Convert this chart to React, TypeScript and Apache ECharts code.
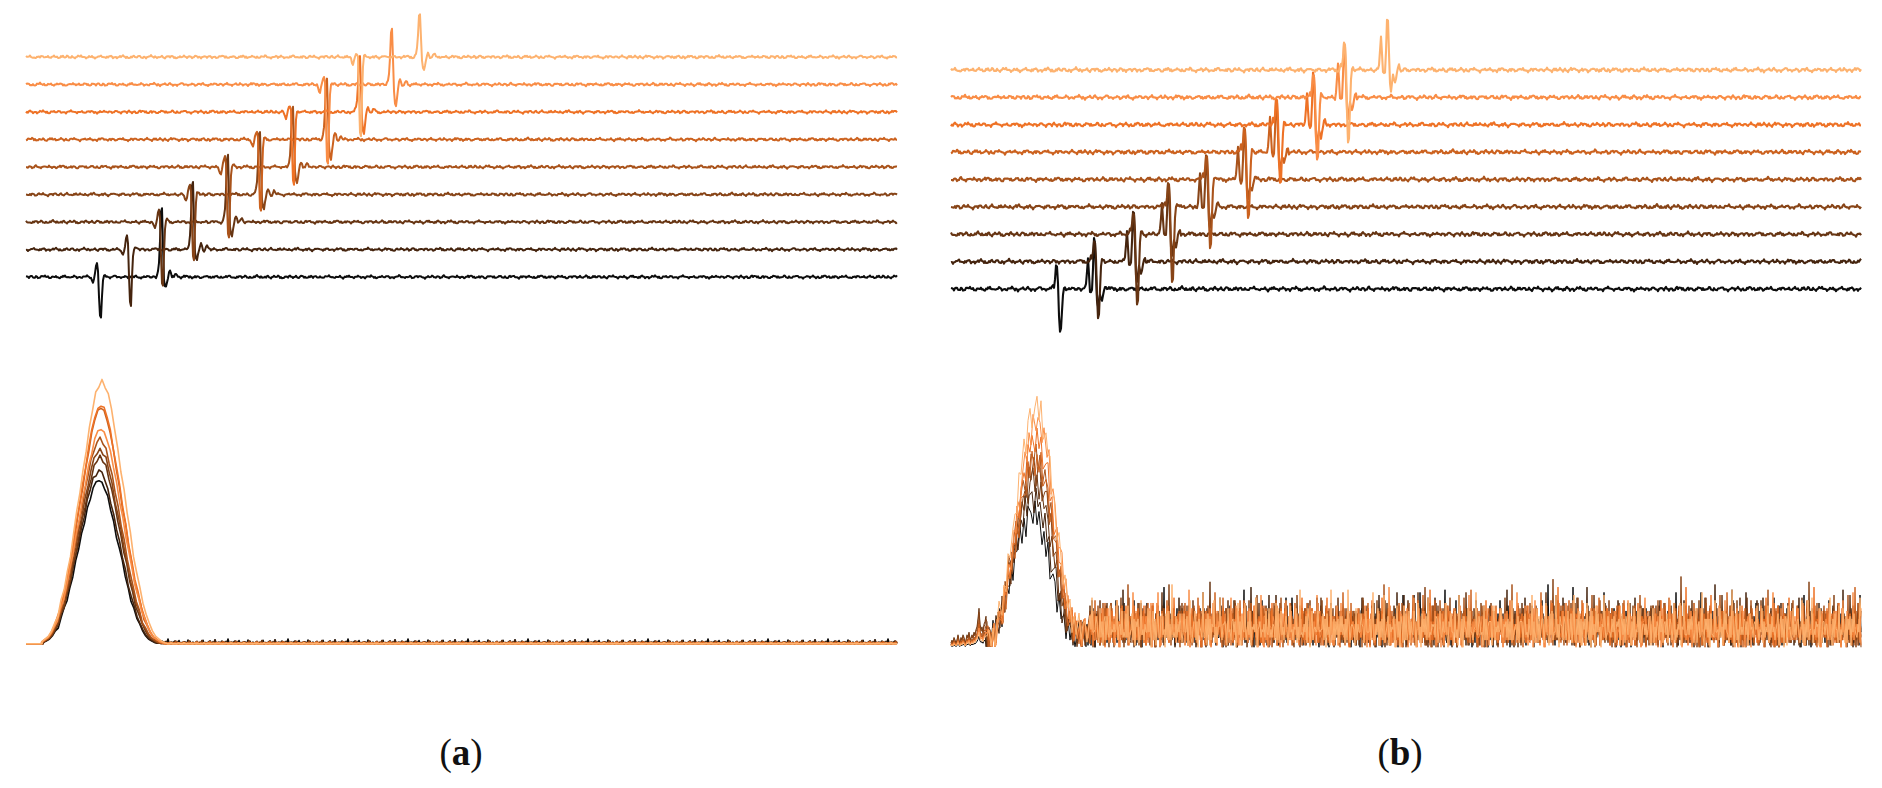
import { useEffect, useRef } from 'react';
import * as echarts from 'echarts';

// ---------- colours of the 9 signals (black -> light orange)
const traceColors = ['#0d0d0d', '#45240e', '#673513', '#874417', '#a9531b', '#cc621f', '#ee7226', '#f98d46', '#fdb26f'];

// ---------- baseline wiggle of the time signals (signal units, 1 = trace offset)
const signalNoise = [0.01, 0.03, 0.0, -0.02, 0.01, 0.04, 0.02, -0.01, -0.03, -0.01, 0.02, 0.0, -0.03, -0.04, -0.01, 0.02, 0.04, 0.01, 0.03, 0.05, 0.02, -0.01, 0.01, -0.02, -0.04, -0.02, 0.0, 0.02, -0.01, 0.01, 0.03, 0.0, -0.02, -0.05, -0.03, 0.0, 0.01, 0.03, 0.02, 0.04, 0.01, -0.01, 0.01, -0.02, -0.03, 0.0, -0.01, 0.02, 0.04, 0.03, 0.0, -0.03, -0.02, 0.01, -0.01, -0.04, -0.02, 0.01, 0.03, 0.01, 0.02, 0.05, 0.03, 0.0, -0.02, 0.0, -0.03, -0.05, -0.02, 0.01, 0.0, 0.02, 0.03, 0.01, -0.02, 0.0, 0.02, 0.04, 0.02, -0.01, -0.03, -0.02, 0.0, -0.02, -0.04, -0.01, 0.02, 0.01, 0.03, 0.06, 0.03, 0.0, -0.01, 0.01, -0.02, -0.03, -0.01, 0.01, -0.01, 0.02, 0.03, 0.0, -0.03, -0.04, -0.01, 0.01, 0.03, 0.02, 0.0, 0.02, 0.04, 0.01, -0.02, -0.01, -0.03, -0.05, -0.02, 0.0, 0.02, 0.01, -0.01, 0.02, 0.04, 0.02, 0.0, -0.02, -0.01, 0.01, 0.03, 0.0, -0.03, -0.02, 0.0, 0.03, 0.05, 0.02, -0.01, 0.0, -0.02, -0.04, -0.01, 0.02];
const signalJitter = [0.015, -0.012, 0.008, -0.016, 0.011, -0.006, 0.014, -0.01, 0.004, -0.014, 0.012];

// ---------- panel (a), top: 9 offset signals, two echoes each
const aSamples = 872;
const aEchoTimes = [74, 104, 136, 167, 202, 234, 267, 301, 334, 366, 394];
const aFirstUp = [0.49, 0.52, 0.45, 0.4, 0.35, 0.3, 0.25, 0.2, 0.1];
const aFirstDown = [1.46, 2.03, 2.34, 2.39, 2.56, 2.62, 2.65, 2.9, 2.89];
const aSecondUp = [2.5, 2.48, 2.39, 2.3, 2.16, 2.18, 2.04, 2.0, 1.56];
const aSecondDown = [0.34, 0.39, 0.5, 0.55, 0.6, 0.7, 0.8, 0.85, 0.5];
const aFirstShape = [0, -0.03, -0.08, -0.1, -0.04, 0.3, 0.8, 1.0, 0.35, -0.5, -0.95, -1.0, -0.5, -0.12, 0.08, 0.15, 0.12, 0.06, 0.02, 0];
const aFirstStart = -10;
const aSecondShape = [0, 0.03, 0.08, 0.2, 0.5, 0.95, 1.0, 0.45, -0.3, -0.85, -1.0, -0.6, -0.2, 0.05, 0.1, 0.06, -0.02, -0.06, -0.03, 0.04, 0.06, 0.03, 0];
const aSecondStart = -6;

// ---------- panel (b), top
const bSamples = 911;
const bEchoTimes = [109, 147, 186, 221, 259, 297, 329, 366, 397, 440];
const bFirstUp = [0.83, 0.79, 0.8, 0.85, 0.89, 0.85, 0.94, 0.83, 0.97];
const bFirstDown = [1.6, 2.07, 2.6, 2.8, 2.52, 2.42, 2.22, 2.31, 2.68];
const bSecondUp = [1.8, 1.81, 1.85, 1.89, 1.85, 1.94, 1.83, 1.97, 1.88];
const bSecondDown = [0.7, 0.75, 0.8, 0.75, 0.7, 0.7, 0.75, 0.8, 0.79];
const bFirstShape = [0, 0.1, 0.25, 0.1, 0.45, 1.0, 0.95, 0.2, -0.6, -1.0, -0.95, -0.5, -0.12, 0.08, 0.1, 0.04, 0];
const bFirstStart = -9;
const bSecondShape = [0, 0.1, 0.35, 0.63, 0.3, -0.05, -0.15, -0.05, 0.4, 1.0, 0.95, 0.3, -0.6, -1.0, -0.6, -0.3, -0.45, -0.6, -0.35, -0.1, 0.05, 0.08, 0];
const bSecondStart = -13;

// ---------- panel (a), bottom: spectra
const aPeakCenter = [73, 73, 74, 74, 74, 75, 75, 75, 76];
const aPeakWidth = [0.97, 0.98, 0.99, 1.0, 1.01, 1.02, 1.03, 1.04, 1.05];
const aPeakHeight = [0.624, 0.66, 0.71, 0.74, 0.78, 0.9, 0.91, 0.82, 1.0];
const aPeakOffsets = [-57, -54, -51, -48, -45, -42, -39, -36, -33, -30, -27, -24, -21, -18, -15, -12, -9, -6, -3, 0, 3, 6, 9, 12, 15, 18, 21, 24, 27, 30, 33, 36, 39, 42, 45, 48, 51, 54, 57, 60];
const aPeakProfile = [0.01, 0.02, 0.03, 0.05, 0.08, 0.11, 0.16, 0.21, 0.27, 0.34, 0.42, 0.5, 0.58, 0.66, 0.74, 0.82, 0.89, 0.95, 0.98, 1.0, 0.98, 0.95, 0.89, 0.82, 0.74, 0.66, 0.58, 0.5, 0.42, 0.34, 0.27, 0.21, 0.16, 0.11, 0.08, 0.05, 0.03, 0.02, 0.01, 0.005];
const aPeakJitter = [0.004, -0.006, 0.008, -0.003, 0.006, -0.008, 0.002, 0.007, -0.005, 0.003, -0.007, 0.005, -0.002, 0.008, -0.004, 0.006, -0.006, 0.002, 0.005, -0.003];
const aFloorNoise = [0.004, 0.002, 0.006, 0.003, 0.012, 0.004, 0.002, 0.005, 0.003, 0.016, 0.005, 0.002, 0.004, 0.007, 0.003, 0.002, 0.011, 0.004, 0.003, 0.006, 0.002, 0.004, 0.019, 0.005, 0.003, 0.002, 0.006, 0.004, 0.009, 0.003, 0.002, 0.005, 0.004, 0.013, 0.003, 0.002, 0.006, 0.003, 0.004, 0.008, 0.002, 0.003, 0.015, 0.004, 0.002, 0.005, 0.003, 0.007, 0.002, 0.004, 0.003, 0.01, 0.004, 0.002, 0.005, 0.003, 0.006, 0.014, 0.003, 0.002];
const aFloorScale = [1.0, 0.8, 0.7, 0.6, 0.5, 0.45, 0.4, 0.35, 0.3];

// ---------- panel (b), bottom: spectra
const bPeakCenter = [84, 85, 86, 87, 87, 88, 88, 89, 88];
const bPeakHeight = [0.5, 0.56, 0.62, 0.66, 0.72, 0.7, 0.78, 0.84, 0.9];
const bPeakOffsets = [-50, -48, -46, -44, -42, -40, -37, -35, -33, -31, -29, -26, -24, -22, -20, -18, -15, -13, -11, -9, -7, -4, -2, 0, 2, 4, 7, 9, 11, 13, 15, 18, 20, 22, 24, 26, 29, 31, 33, 35, 37, 40, 42, 44, 46, 48, 51];
const bPeakProfile = [0.02, 0.03, 0.04, 0.06, 0.09, 0.13, 0.17, 0.22, 0.28, 0.34, 0.4, 0.47, 0.54, 0.61, 0.68, 0.75, 0.81, 0.87, 0.92, 0.96, 0.99, 1.0, 1.0, 0.99, 0.97, 0.93, 0.88, 0.82, 0.75, 0.68, 0.6, 0.52, 0.44, 0.37, 0.3, 0.24, 0.19, 0.15, 0.12, 0.1, 0.09, 0.08, 0.08, 0.08, 0.08, 0.08, 0.08];
const bPeakJitter = [0.02, -0.04, 0.05, -0.02, 0.06, -0.05, 0.03, 0.04, -0.06, 0.01, 0.05, -0.03, 0.06, -0.05, 0.02, -0.01, 0.05, -0.04, 0.03, -0.06, 0.04, 0.01, -0.03, 0.06, -0.02, 0.05, -0.05, 0.03, -0.03, 0.06, -0.04, 0.02, 0.03, -0.05, 0.05, -0.01, 0.03, -0.04, 0.05, -0.02, 0.04, -0.05, 0.01, 0.06, -0.03, 0.04, -0.04, 0.05, -0.02, 0.03];
const bPreFloor = [0.02, 0.03, 0.02, 0.04, 0.03, 0.02, 0.03, 0.05, 0.03, 0.02, 0.04, 0.03, 0.05, 0.04, 0.02, 0.03, 0.05, 0.04, 0.06, 0.03, 0.04, 0.05, 0.04, 0.06, 0.05, 0.07, 0.08, 0.11, 0.15, 0.09, 0.07, 0.08, 0.06, 0.09, 0.1, 0.12, 0.11, 0.14];
const bPreScale = [0.3, 0.6, 1.0, 0.9, 0.7, 0.6, 0.5, 0.5, 0.4];
const bFloorNoise = [0.03, 0.09, 0.05, 0.12, 0.02, 0.07, 0.14, 0.04, 0.08, 0.01, 0.11, 0.06, 0.03, 0.16, 0.05, 0.09, 0.02, 0.07, 0.12, 0.04, 0.1, 0.03, 0.06, 0.13, 0.05, 0.02, 0.08, 0.15, 0.04, 0.07, 0.01, 0.1, 0.06, 0.12, 0.03, 0.08, 0.05, 0.18, 0.04, 0.07, 0.02, 0.11, 0.06, 0.09, 0.03, 0.14, 0.05, 0.02, 0.08, 0.12, 0.04, 0.06, 0.1, 0.03, 0.07, 0.15, 0.05, 0.02, 0.09, 0.06, 0.13, 0.04, 0.08, 0.01, 0.11, 0.05, 0.07, 0.03, 0.16, 0.06, 0.04, 0.09, 0.02, 0.12, 0.05, 0.08, 0.03, 0.1, 0.06, 0.14, 0.04, 0.07, 0.02, 0.09, 0.05, 0.21, 0.06, 0.03, 0.08, 0.11, 0.04, 0.06, 0.02, 0.13, 0.05, 0.09, 0.03, 0.07, 0.12, 0.04, 0.1, 0.02, 0.06, 0.15, 0.05, 0.08, 0.03, 0.11, 0.04, 0.07, 0.17, 0.05, 0.02, 0.09, 0.06, 0.12, 0.03, 0.08, 0.04, 0.1, 0.05, 0.14, 0.02, 0.07, 0.06, 0.11, 0.03, 0.09];
const bFloorNoise2 = [0.0, 0.02, -0.02, 0.01, 0.03, -0.01, 0.0, -0.02, 0.04, 0.01, -0.01, 0.02, -0.02, 0.0, 0.03, -0.01, 0.01, 0.05, -0.02, 0.0, 0.02, -0.01, 0.01, -0.02, 0.03, 0.0, -0.01, 0.02, 0.04, -0.02, 0.01, 0.0, -0.01, 0.03, -0.02, 0.02, 0.0, 0.01, -0.02, 0.06, 0.0, -0.01, 0.02, 0.01, -0.02, 0.0, 0.03, -0.01, 0.02, 0.0, -0.02, 0.01, 0.02];

const panelLabels = ['a', 'b'];

// ---------- helpers building series data from the arrays above
function addEcho(i: number, center: number, shape: number[], start: number, up: number, down: number) {
  const j = i - center - start;
  if (j < 0 || j >= shape.length) return 0;
  const v = shape[j];
  return v > 0 ? v * up : v * down;
}

function signalTrace(k: number, n: number, noiseScale: number, echoes: { t: number; shape: number[]; start: number; up: number; down: number }[]) {
  const out: number[][] = [];
  for (let i = 0; i < n; i++) {
    let y = k + noiseScale * (signalNoise[(i + k * 31) % signalNoise.length] + signalJitter[(i + k * 3) % signalJitter.length]);
    for (const e of echoes) y += addEcho(i, e.t, e.shape, e.start, e.up, e.down);
    out.push([i, y]);
  }
  return out;
}

function aSpectrum(k: number) {
  const out: number[][] = [];
  const c = aPeakCenter[k];
  const w = aPeakWidth[k];
  const first = c + aPeakOffsets[0] * w;
  for (let i = 0; i < first; i++) out.push([i, 0.001]);
  aPeakOffsets.forEach((o, j) => {
    const p = aPeakProfile[j];
    out.push([c + o * w, aPeakHeight[k] * p + (p > 0.1 ? aPeakJitter[(j + k * 7) % aPeakJitter.length] : 0)]);
  });
  const last = Math.ceil(c + aPeakOffsets[aPeakOffsets.length - 1] * w) + 1;
  for (let i = last; i < aSamples; i++) out.push([i, aFloorNoise[(i + k * 13) % aFloorNoise.length] * aFloorScale[k]]);
  return out;
}

function bSpectrum(k: number) {
  const out: number[][] = [];
  const c = bPeakCenter[k];
  const first = c + bPeakOffsets[0];
  for (let i = 0; i < first; i++) out.push([i, bPreFloor[Math.min(i, bPreFloor.length - 1)] * bPreScale[k]]);
  bPeakOffsets.forEach((o, j) => {
    out.push([c + o, Math.max(0.005, bPeakHeight[k] * bPeakProfile[j] + bPeakJitter[(j + k * 11) % bPeakJitter.length])]);
  });
  const last = c + bPeakOffsets[bPeakOffsets.length - 1] + 1;
  for (let i = last; i < bSamples; i++) {
    const v = bFloorNoise[(i + k * 41) % bFloorNoise.length] + bFloorNoise2[(i + k * 17) % bFloorNoise2.length];
    out.push([i, Math.max(0.003, v)]);
  }
  return out;
}

function buildOption() {
  const series: any[] = [];
  const line = (data: number[][], k: number, idx: number, width: number) => ({
    type: 'line',
    data,
    xAxisIndex: idx,
    yAxisIndex: idx,
    symbol: 'none',
    showSymbol: false,
    silent: true,
    clip: false,
    lineStyle: { color: traceColors[k], width, join: 'round' },
    itemStyle: { color: traceColors[k] },
  });
  for (let k = 0; k < 9; k++) {
    series.push(line(signalTrace(k, aSamples, 1.0, [
      { t: aEchoTimes[k], shape: aFirstShape, start: aFirstStart, up: aFirstUp[k], down: aFirstDown[k] },
      { t: aEchoTimes[k + 2], shape: aSecondShape, start: aSecondStart, up: aSecondUp[k], down: aSecondDown[k] },
    ]), k, 0, 2));
  }
  for (let k = 0; k < 9; k++) {
    series.push(line(signalTrace(k, bSamples, 1.4, [
      { t: bEchoTimes[k], shape: bFirstShape, start: bFirstStart, up: bFirstUp[k], down: bFirstDown[k] },
      { t: bEchoTimes[k + 1], shape: bSecondShape, start: bSecondStart, up: bSecondUp[k], down: bSecondDown[k] },
    ]), k, 1, 2.1));
  }
  for (let k = 0; k < 9; k++) series.push(line(aSpectrum(k), k, 2, 1.6));
  for (let k = 0; k < 9; k++) series.push(line(bSpectrum(k), k, 3, 1));

  const hiddenX = (max: number) => ({ type: 'value', min: 0, max, show: false });
  const hiddenY = (min: number, max: number) => ({ type: 'value', min, max, show: false });
  return {
    animation: false,
    backgroundColor: '#ffffff',
    grid: [
      { left: 26, width: 871, top: 2, height: 343.75 },
      { left: 951, width: 910, top: 1.56, height: 355.9 },
      { left: 26, width: 871, top: 328.4, height: 323.5 },
      { left: 951, width: 910, top: 330, height: 326 },
    ],
    xAxis: [hiddenX(aSamples - 1), hiddenX(bSamples - 1), hiddenX(aSamples - 1), hiddenX(bSamples - 1)].map((a, i) => ({ ...a, gridIndex: i })),
    yAxis: [hiddenY(-2.5, 10), hiddenY(-2.5, 10.5), hiddenY(-0.03, 1.2), hiddenY(-0.03, 1.2)].map((a, i) => ({ ...a, gridIndex: i })),
    series,
    graphic: panelLabels.map((lab, i) => ({
      type: 'text',
      x: i === 0 ? 461 : 1400,
      y: 752,
      silent: true,
      style: {
        text: `{p|(}{b|${lab}}{p|)}`,
        align: 'center',
        verticalAlign: 'middle',
        rich: {
          p: { fontFamily: 'Liberation Serif', fontSize: 37, fill: '#111' },
          b: { fontFamily: 'Liberation Serif', fontSize: 37, fontWeight: 'bold', fill: '#111' },
        },
      },
    })),
  };
}

export default function App() {
  const ref = useRef<HTMLDivElement>(null);
  useEffect(() => {
    const chart = echarts.init(ref.current!, undefined, { renderer: 'svg' });
    chart.setOption(buildOption() as any);
    return () => chart.dispose();
  }, []);
  return <div ref={ref} style={{ position: 'absolute', left: 0, top: 0, width: 1882, height: 788, background: '#fff' }} />;
}
